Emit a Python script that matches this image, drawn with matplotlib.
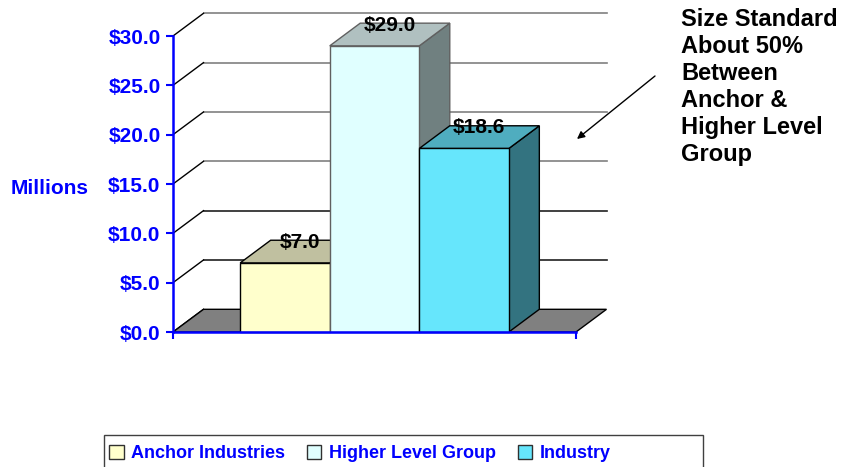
import matplotlib
matplotlib.use("Agg")
import matplotlib.pyplot as plt
from matplotlib.patches import Polygon, Patch, Rectangle

# ---- data ----
categories = ["Anchor Industries", "Higher Level Group", "Industry"]
values = [7.0, 29.0, 18.6]
value_labels = ["$7.0", "$29.0", "$18.6"]
yticks = [0, 5, 10, 15, 20, 25, 30]
ytick_labels = ["$0.0", "$5.0", "$10.0", "$15.0", "$20.0", "$25.0", "$30.0"]
note_text = "Size Standard\nAbout 50%\nBetween\nAnchor &\nHigher Level\nGroup"

# ---- style ----
front_cols = ["#FFFFCC", "#E0FFFF", "#66E6FC"]
top_cols = ["#C0C0A0", "#B0C0C0", "#4FADBF"]
side_cols = ["#80806A", "#708080", "#337380"]
edge_cols = ["#000000", "#606060", "#000000"]
BLUE = "#0000FF"
FONT = "Liberation Sans"

W, H = 844, 467
fig = plt.figure(figsize=(W / 100, H / 100), dpi=100)
L, R, B, T = 173, 576, 332, 36
ax = fig.add_axes([L / W, 1 - B / H, (R - L) / W, (B - T) / H])
ax.set_xlim(-2.25, 2.25)
ax.set_ylim(0, 30)
ax.patch.set_alpha(0)

px_x = (R - L) / 4.5
px_y = (B - T) / 30.0
dx = 30.5 / px_x
dy = 22.7 / px_y
x0, x1 = ax.get_xlim()

# back wall gridlines and side wall lines
for v in yticks:
    gc = "#808080" if v >= 15 else "#202020"
    if v > 0:
        ax.plot([x0 + dx, x1 + dx], [v + dy, v + dy], color=gc, lw=1.2,
                clip_on=False, zorder=1)
    ax.plot([x0, x0 + dx], [v, v + dy], color="black", lw=1.0,
            clip_on=False, zorder=1)

# floor
floor = Polygon([(x0, 0), (x1, 0), (x1 + dx, dy), (x0 + dx, dy)],
                closed=True, facecolor="#808080", edgecolor="black", lw=1.0,
                clip_on=False, zorder=2)
ax.add_patch(floor)

xs = [-1, 0, 1]
for i, (x, v) in enumerate(zip(xs, values)):
    z = 3 + i * 3
    side = Polygon([(x + 0.5, 0), (x + 0.5 + dx, dy), (x + 0.5 + dx, v + dy),
                    (x + 0.5, v)], closed=True, facecolor=side_cols[i],
                   edgecolor=edge_cols[i], lw=1.0, clip_on=False, zorder=z)
    top = Polygon([(x - 0.5, v), (x + 0.5, v), (x + 0.5 + dx, v + dy),
                   (x - 0.5 + dx, v + dy)], closed=True, facecolor=top_cols[i],
                  edgecolor=edge_cols[i], lw=1.0, clip_on=False, zorder=z)
    ax.add_patch(side)
    ax.add_patch(top)
    ax.bar([x], [v], width=1.0, color=front_cols[i], edgecolor=edge_cols[i],
           lw=1.0, zorder=z + 1, clip_on=False)

for x, v, lab in zip(xs, values, value_labels):
    ax.text(x + dx / 2, v + dy - 0.2, lab, ha="center", va="center",
            fontsize=15, fontweight="bold", family=FONT, color="black",
            zorder=20, clip_on=False)

# axes styling
for s in ["top", "right"]:
    ax.spines[s].set_visible(False)
for s in ["left", "bottom"]:
    ax.spines[s].set_color(BLUE)
    ax.spines[s].set_linewidth(1.8)
    ax.spines[s].set_zorder(15)
ax.set_yticks(yticks)
ax.set_yticklabels(ytick_labels)
ax.tick_params(axis="y", colors=BLUE, length=5, width=1.5, pad=4)
for t in ax.get_yticklabels():
    t.set_fontsize(15)
    t.set_fontweight("bold")
    t.set_family(FONT)
ax.set_xticks([x0, x1])
ax.set_xticklabels([])
ax.tick_params(axis="x", colors=BLUE, length=5, width=1.5)

ax.set_ylabel("Millions", rotation=0, ha="right", va="center", color=BLUE,
              fontsize=15, fontweight="bold", family=FONT)
ax.yaxis.set_label_coords((89 - L) / (R - L), (B - 188) / (B - T))

# note & arrow
fig.text(681 / W, 1 - 8 / H, note_text, ha="left", va="top", fontsize=17,
         fontweight="bold", family=FONT, color="black", linespacing=1.22)
ax.annotate("", xy=(577, H - 139), xycoords="figure pixels",
            xytext=(655, H - 76), textcoords="figure pixels",
            arrowprops=dict(arrowstyle="-|>", color="black", lw=1.0,
                            mutation_scale=11, shrinkA=0, shrinkB=0))

# legend
handles = [Patch(facecolor=front_cols[i], edgecolor="#303030", lw=1.0)
           for i in range(3)]
leg = fig.legend(handles, categories, loc="upper left",
                 bbox_to_anchor=(104 / W, 1 - 440 / H), ncol=3, frameon=False,
                 prop={"family": FONT, "weight": "bold", "size": 13},
                 handlelength=0.78, handleheight=0.78, handletextpad=0.4,
                 columnspacing=1.25, borderaxespad=0, borderpad=0.3)
for t in leg.get_texts():
    t.set_color(BLUE)
fig.patches.append(Rectangle((104 / W, -0.05), (703 - 104) / W,
                             1 - 435 / H + 0.05, transform=fig.transFigure,
                             facecolor="none", edgecolor="#404040", lw=1.0))

fig.savefig("out.png", dpi=100)
